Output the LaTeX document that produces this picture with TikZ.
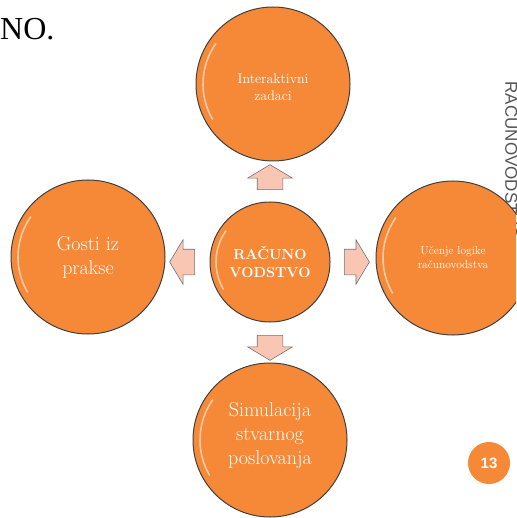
\documentclass[tikz,border=0pt]{standalone}
\usepackage{fontspec}
\newfontfamily\arialf{Liberation Sans}
\newfontfamily\timesf{Liberation Serif}
\usetikzlibrary{shapes.arrows}
\definecolor{orng}{RGB}{246,137,56}
\definecolor{pinkarr}{RGB}{250,198,180}
\definecolor{vtext}{RGB}{85,85,85}
\begin{document}
\begin{tikzpicture}[x=1pt,y=-1pt,
  bub/.style={circle, fill=orng, draw=black!75, line width=1pt, inner sep=0pt, minimum size=#1},
  lbl/.style={text=white, align=center, inner sep=0pt},
  arr/.style={single arrow, fill=pinkarr, draw=black!55, line width=0.6pt,
    inner xsep=0pt, inner ysep=12.5pt, minimum width=0pt, minimum height=25pt,
    single arrow head extend=9.5pt, single arrow tip angle=118, rotate=#1},
  gloss/.style={white, opacity=0.55, line width=1.6pt, line cap=round}]
\useasboundingbox (0,0) rectangle (516,518);
\clip (0,0) rectangle (516,518);
% title fragment
\node[anchor=base west, inner sep=0pt, font=\timesf\fontsize{32}{36}\selectfont] (title) at (0,40) {NO.};
% vertical side text
\node[rotate=-90, inner sep=0pt, text=vtext, font=\arialf\fontsize{17}{20}\selectfont, anchor=south] (side) at (505,160) {RAČUNOVODSTVO};
% bubbles
\node[bub=154pt] (T) at (273,84) {};
\node[bub=154pt] (L) at (88,257) {};
\node[bub=154pt] (R) at (453,258) {};
\node[bub=154pt] (B) at (270,440) {};
\node[bub=120pt] (C) at (270,262) {};
% gloss highlights
\foreach \n/\r in {T/70,L/70,R/70,B/70,C/54}{
  \draw[gloss] (\n.center) ++(150:\r) arc[start angle=150, end angle=215, radius=\r];
}
% labels
\node[lbl, font=\fontsize{14}{17}\selectfont] (tT) at ([yshift=-3pt]T.center) {Interaktivni\\zadaci};
\node[lbl, font=\fontsize{20}{24}\selectfont] (tL) at (L.center) {Gosti iz\\prakse};
\node[lbl, font=\fontsize{11.5}{14}\selectfont] (tR) at (R.center) {Učenje logike\\računovodstva};
\node[lbl, font=\fontsize{20}{24}\selectfont] (tB) at ([yshift=4pt]B.center) {Simulacija\\stvarnog\\poslovanja};
\node[lbl, font=\bfseries\fontsize{14.5}{18}\selectfont] (tC) at (C.center) {RAČUNO\\VODSTVO};
% arrows
\node[arr=90] (aU) at (270,181) {};
\node[arr=270] (aD) at (270,344) {};
\node[arr=180] (aL) at (186,262) {};
\node[arr=0] (aR) at (353,262) {};
% page number
\node[circle, fill=orng, minimum size=42pt, inner sep=0pt, text=white, font=\arialf\bfseries\fontsize{15}{18}\selectfont] (pg) at (489,463) {13};
\end{tikzpicture}
\end{document}
